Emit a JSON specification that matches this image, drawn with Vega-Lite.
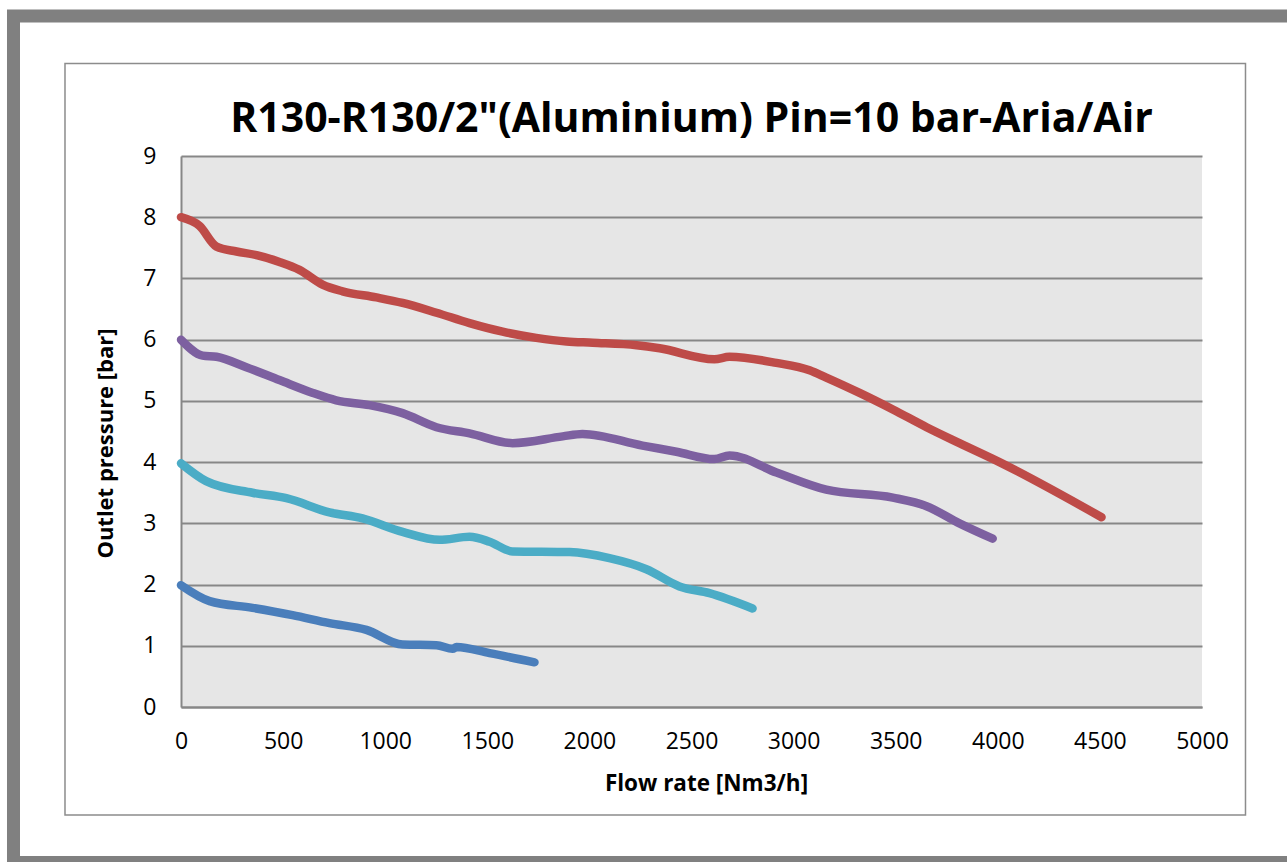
{
  "$schema": "https://vega.github.io/schema/vega-lite/v6.json",
  "width": 1021,
  "height": 551,
  "autosize": {"type": "none"},
  "padding": {"left": 181, "top": 156, "right": 85, "bottom": 155},
  "background": "white",
  "title": {
    "text": "R130-R130/2\"(Aluminium) Pin=10 bar-Aria/Air",
    "font": "Open Sans",
    "fontSize": 41,
    "fontWeight": "bold",
    "color": "black",
    "anchor": "middle",
    "frame": "group",
    "baseline": "alphabetic",
    "offset": -163.5
  },
  "datasets": {
    "curves": [
      {"series": "8 bar", "flow": 0, "p": 8.0},
      {"series": "8 bar", "flow": 90, "p": 7.86},
      {"series": "8 bar", "flow": 174, "p": 7.52},
      {"series": "8 bar", "flow": 272, "p": 7.44},
      {"series": "8 bar", "flow": 370, "p": 7.38},
      {"series": "8 bar", "flow": 482, "p": 7.27},
      {"series": "8 bar", "flow": 580, "p": 7.14},
      {"series": "8 bar", "flow": 693, "p": 6.9},
      {"series": "8 bar", "flow": 791, "p": 6.79},
      {"series": "8 bar", "flow": 957, "p": 6.69},
      {"series": "8 bar", "flow": 1085, "p": 6.6},
      {"series": "8 bar", "flow": 1251, "p": 6.44},
      {"series": "8 bar", "flow": 1413, "p": 6.27},
      {"series": "8 bar", "flow": 1575, "p": 6.13},
      {"series": "8 bar", "flow": 1740, "p": 6.03},
      {"series": "8 bar", "flow": 1888, "p": 5.97},
      {"series": "8 bar", "flow": 2016, "p": 5.95},
      {"series": "8 bar", "flow": 2231, "p": 5.91},
      {"series": "8 bar", "flow": 2344, "p": 5.86},
      {"series": "8 bar", "flow": 2612, "p": 5.68},
      {"series": "8 bar", "flow": 2686, "p": 5.72},
      {"series": "8 bar", "flow": 2916, "p": 5.62},
      {"series": "8 bar", "flow": 3078, "p": 5.5},
      {"series": "8 bar", "flow": 3160, "p": 5.38},
      {"series": "8 bar", "flow": 3323, "p": 5.13},
      {"series": "8 bar", "flow": 3486, "p": 4.86},
      {"series": "8 bar", "flow": 3651, "p": 4.57},
      {"series": "8 bar", "flow": 3812, "p": 4.31},
      {"series": "8 bar", "flow": 4008, "p": 4.0},
      {"series": "8 bar", "flow": 4508, "p": 3.1},
      {"series": "6 bar", "flow": 0, "p": 6.0},
      {"series": "6 bar", "flow": 106, "p": 5.74},
      {"series": "6 bar", "flow": 174, "p": 5.72},
      {"series": "6 bar", "flow": 320, "p": 5.55},
      {"series": "6 bar", "flow": 482, "p": 5.34},
      {"series": "6 bar", "flow": 646, "p": 5.13},
      {"series": "6 bar", "flow": 760, "p": 5.01},
      {"series": "6 bar", "flow": 923, "p": 4.93},
      {"series": "6 bar", "flow": 1085, "p": 4.8},
      {"series": "6 bar", "flow": 1251, "p": 4.57},
      {"series": "6 bar", "flow": 1413, "p": 4.47},
      {"series": "6 bar", "flow": 1624, "p": 4.31},
      {"series": "6 bar", "flow": 1869, "p": 4.42},
      {"series": "6 bar", "flow": 1966, "p": 4.46},
      {"series": "6 bar", "flow": 2260, "p": 4.27},
      {"series": "6 bar", "flow": 2426, "p": 4.17},
      {"series": "6 bar", "flow": 2612, "p": 4.05},
      {"series": "6 bar", "flow": 2686, "p": 4.11},
      {"series": "6 bar", "flow": 2916, "p": 3.83},
      {"series": "6 bar", "flow": 3160, "p": 3.55},
      {"series": "6 bar", "flow": 3486, "p": 3.42},
      {"series": "6 bar", "flow": 3651, "p": 3.28},
      {"series": "6 bar", "flow": 3812, "p": 3.0},
      {"series": "6 bar", "flow": 3975, "p": 2.75},
      {"series": "4 bar", "flow": 0, "p": 3.98},
      {"series": "4 bar", "flow": 123, "p": 3.69},
      {"series": "4 bar", "flow": 350, "p": 3.5},
      {"series": "4 bar", "flow": 516, "p": 3.41},
      {"series": "4 bar", "flow": 727, "p": 3.18},
      {"series": "4 bar", "flow": 889, "p": 3.08},
      {"series": "4 bar", "flow": 1085, "p": 2.86},
      {"series": "4 bar", "flow": 1266, "p": 2.73},
      {"series": "4 bar", "flow": 1413, "p": 2.78},
      {"series": "4 bar", "flow": 1511, "p": 2.7},
      {"series": "4 bar", "flow": 1624, "p": 2.54},
      {"series": "4 bar", "flow": 1903, "p": 2.53},
      {"series": "4 bar", "flow": 2098, "p": 2.43},
      {"series": "4 bar", "flow": 2279, "p": 2.25},
      {"series": "4 bar", "flow": 2441, "p": 1.97},
      {"series": "4 bar", "flow": 2588, "p": 1.86},
      {"series": "4 bar", "flow": 2799, "p": 1.61},
      {"series": "2 bar", "flow": 0, "p": 1.99},
      {"series": "2 bar", "flow": 140, "p": 1.73},
      {"series": "2 bar", "flow": 350, "p": 1.62},
      {"series": "2 bar", "flow": 546, "p": 1.5},
      {"series": "2 bar", "flow": 727, "p": 1.37},
      {"series": "2 bar", "flow": 908, "p": 1.26},
      {"series": "2 bar", "flow": 1085, "p": 1.02},
      {"series": "2 bar", "flow": 1251, "p": 1.01},
      {"series": "2 bar", "flow": 1330, "p": 0.95},
      {"series": "2 bar", "flow": 1349, "p": 0.98},
      {"series": "2 bar", "flow": 1511, "p": 0.88},
      {"series": "2 bar", "flow": 1731, "p": 0.73}
    ]
  },
  "layer": [
    {
      "data": {"values": [{"frame": "outer"}]},
      "mark": {"type": "rect", "filled": false, "stroke": "#808080", "strokeWidth": 13, "clip": false},
      "encoding": {
        "x": {"datum": -820.3, "type": "quantitative", "scale": {"domain": [0, 5000], "nice": false, "zero": false}},
        "x2": {"datum": 5480},
        "y": {"datum": 11.287, "type": "quantitative", "scale": {"domain": [0, 9], "nice": false, "zero": false}},
        "y2": {"datum": -2.54}
      }
    },
    {
      "data": {"values": [{"frame": "inner"}]},
      "mark": {"type": "rect", "filled": false, "stroke": "#8c8c8c", "strokeWidth": 1.5, "clip": false},
      "encoding": {
        "x": {"datum": -568.1, "type": "quantitative"},
        "x2": {"datum": 5213},
        "y": {"datum": 10.511, "type": "quantitative"},
        "y2": {"datum": -1.764}
      }
    },
    {
      "data": {"name": "curves"},
      "mark": {"type": "line", "strokeWidth": 8.5, "strokeCap": "round", "strokeJoin": "round", "interpolate": "monotone"},
      "encoding": {
        "x": {
          "field": "flow",
          "type": "quantitative",
          "scale": {"domain": [0, 5000], "nice": false, "zero": false},
          "axis": {
            "title": "Flow rate [Nm3/h]",
            "values": [0, 500, 1000, 1500, 2000, 2500, 3000, 3500, 4000, 4500, 5000],
            "format": "d",
            "grid": false,
            "ticks": false,
            "domainColor": "#878787",
            "domainWidth": 2,
            "labelFont": "Open Sans",
            "labelFontSize": 23,
            "labelColor": "black",
            "labelPadding": 23,
            "labelFlush": false,
            "labelOverlap": false,
            "titleFont": "Open Sans",
            "titleFontSize": 22.5,
            "titleFontWeight": "bold",
            "titleColor": "black",
            "titlePadding": 19,
            "titleX": 525
          }
        },
        "y": {
          "field": "p",
          "type": "quantitative",
          "scale": {"domain": [0, 9], "nice": false, "zero": false},
          "axis": {
            "title": "Outlet pressure [bar]",
            "values": [0, 1, 2, 3, 4, 5, 6, 7, 8, 9],
            "format": "d",
            "grid": true,
            "gridColor": "#878787",
            "gridWidth": 2,
            "ticks": false,
            "domainColor": "#878787",
            "domainWidth": 2,
            "labelFont": "Open Sans",
            "labelFontSize": 23,
            "labelColor": "black",
            "labelPadding": 25,
            "labelFlush": false,
            "labelOverlap": false,
            "titleFont": "Open Sans",
            "titleFontSize": 22,
            "titleFontWeight": "bold",
            "titleColor": "black",
            "titlePadding": 25,
            "titleY": 287
          }
        },
        "color": {
          "field": "series",
          "type": "nominal",
          "scale": {"domain": ["2 bar", "8 bar", "6 bar", "4 bar"], "range": ["#4A7EBB", "#BE4B48", "#7D60A0", "#4BACC6"]},
          "legend": null
        }
      }
    }
  ],
  "config": {
    "view": {"fill": "#e6e6e6", "stroke": null}
  }
}
